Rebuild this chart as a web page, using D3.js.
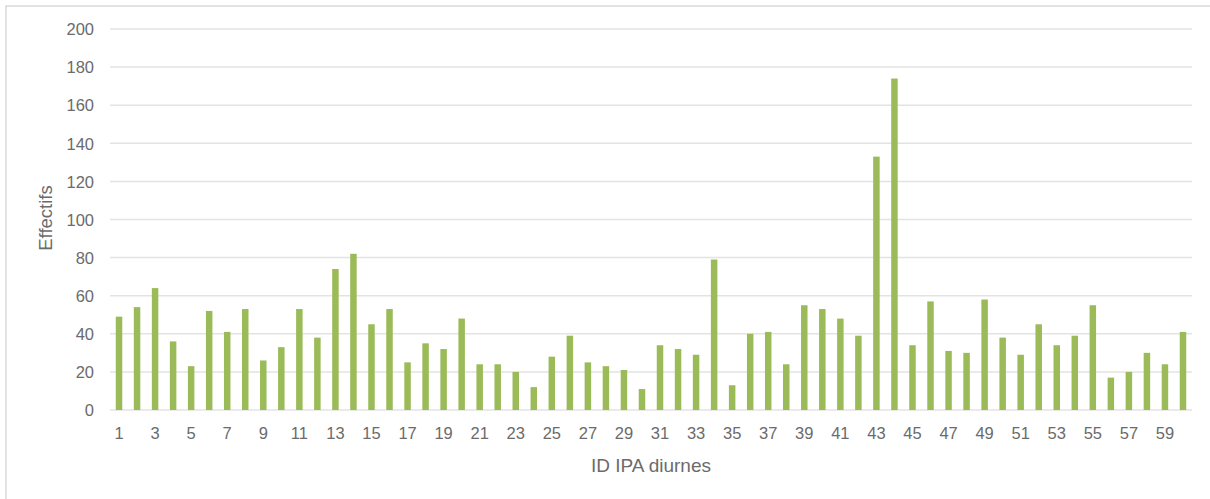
<!DOCTYPE html>
<html>
<head>
<meta charset="utf-8">
<script src="https://cdn.jsdelivr.net/npm/d3@7"></script>
<style>
  html, body { margin: 0; padding: 0; background: #fff; }
  svg { display: block; }
  text { font-family: "Liberation Sans", "Open Sans", sans-serif; fill: #6b6b6b; }
</style>
</head>
<body>
<svg id="chart" width="1210" height="499"></svg>
<script>
// Effectifs per diurnal IPA point
const ids = d3.range(1, 61);
const effectifs = [
  49, 54, 64, 36, 23, 52, 41, 53, 26, 33,
  53, 38, 74, 82, 45, 53, 25, 35, 32, 48,
  24, 24, 20, 12, 28, 39, 25, 23, 21, 11,
  34, 32, 29, 79, 13, 40, 41, 24, 55, 53,
  48, 39, 133, 174, 34, 57, 31, 30, 58, 38,
  29, 45, 34, 39, 55, 17, 20, 30, 24, 41
];
const yTicks = [0, 20, 40, 60, 80, 100, 120, 140, 160, 180, 200];
const xTickLabels = ids.filter(d => d % 2 === 1);
const yTitle = "Effectifs";
const xTitle = "ID IPA diurnes";

const data = ids.map((id, i) => ({ id, value: effectifs[i] }));

const svg = d3.select("#chart");
const W = 1210, H = 499;
const plot = { left: 110, right: 1192, top: 29, bottom: 410 };

// chart frame
svg.append("rect")
  .attr("x", 6).attr("y", 6)
  .attr("width", W + 10).attr("height", H + 10)
  .attr("fill", "#fff")
  .attr("stroke", "#d9d9d9")
  .attr("stroke-width", 1.5);

const x = d3.scaleBand()
  .domain(ids)
  .range([plot.left, plot.right])
  .paddingInner(0.64)
  .paddingOuter(0.32);

const y = d3.scaleLinear()
  .domain([0, 200])
  .range([plot.bottom, plot.top]);

// horizontal gridlines
svg.append("g")
  .selectAll("line")
  .data(yTicks)
  .join("line")
  .attr("x1", plot.left).attr("x2", plot.right)
  .attr("y1", d => y(d)).attr("y2", d => y(d))
  .attr("stroke", "#e3e3e3")
  .attr("stroke-width", 1.5);

// y axis labels
const yAxis = svg.append("g")
  .attr("transform", `translate(${plot.left - 16},0)`)
  .call(d3.axisLeft(y).tickValues(yTicks).tickSize(0).tickPadding(0));
yAxis.select(".domain").remove();
yAxis.selectAll("text")
  .attr("font-size", 16.5)
  .attr("dy", "0.35em")
  .style("fill", "#6b6b6b")
  .style("font-family", "Liberation Sans, sans-serif");

// bars
svg.append("g")
  .selectAll("rect")
  .data(data)
  .join("rect")
  .attr("x", d => x(d.id))
  .attr("width", x.bandwidth())
  .attr("y", d => y(d.value))
  .attr("height", d => y(0) - y(d.value))
  .attr("fill", "#9bbb59");

// x axis labels (odd ids)
const xAxis = svg.append("g")
  .attr("transform", `translate(0,${plot.bottom})`)
  .call(d3.axisBottom(x).tickValues(xTickLabels).tickSize(0).tickPadding(17));
xAxis.select(".domain").remove();
xAxis.selectAll("text")
  .attr("font-size", 16.5)
  .style("fill", "#6b6b6b")
  .style("font-family", "Liberation Sans, sans-serif");

// axis titles
svg.append("text")
  .attr("transform", `translate(52,218) rotate(-90)`)
  .attr("text-anchor", "middle")
  .attr("font-size", 18.5)
  .text(yTitle);

svg.append("text")
  .attr("x", 651)
  .attr("y", 472)
  .attr("text-anchor", "middle")
  .attr("font-size", 19)
  .text(xTitle);
</script>
</body>
</html>
